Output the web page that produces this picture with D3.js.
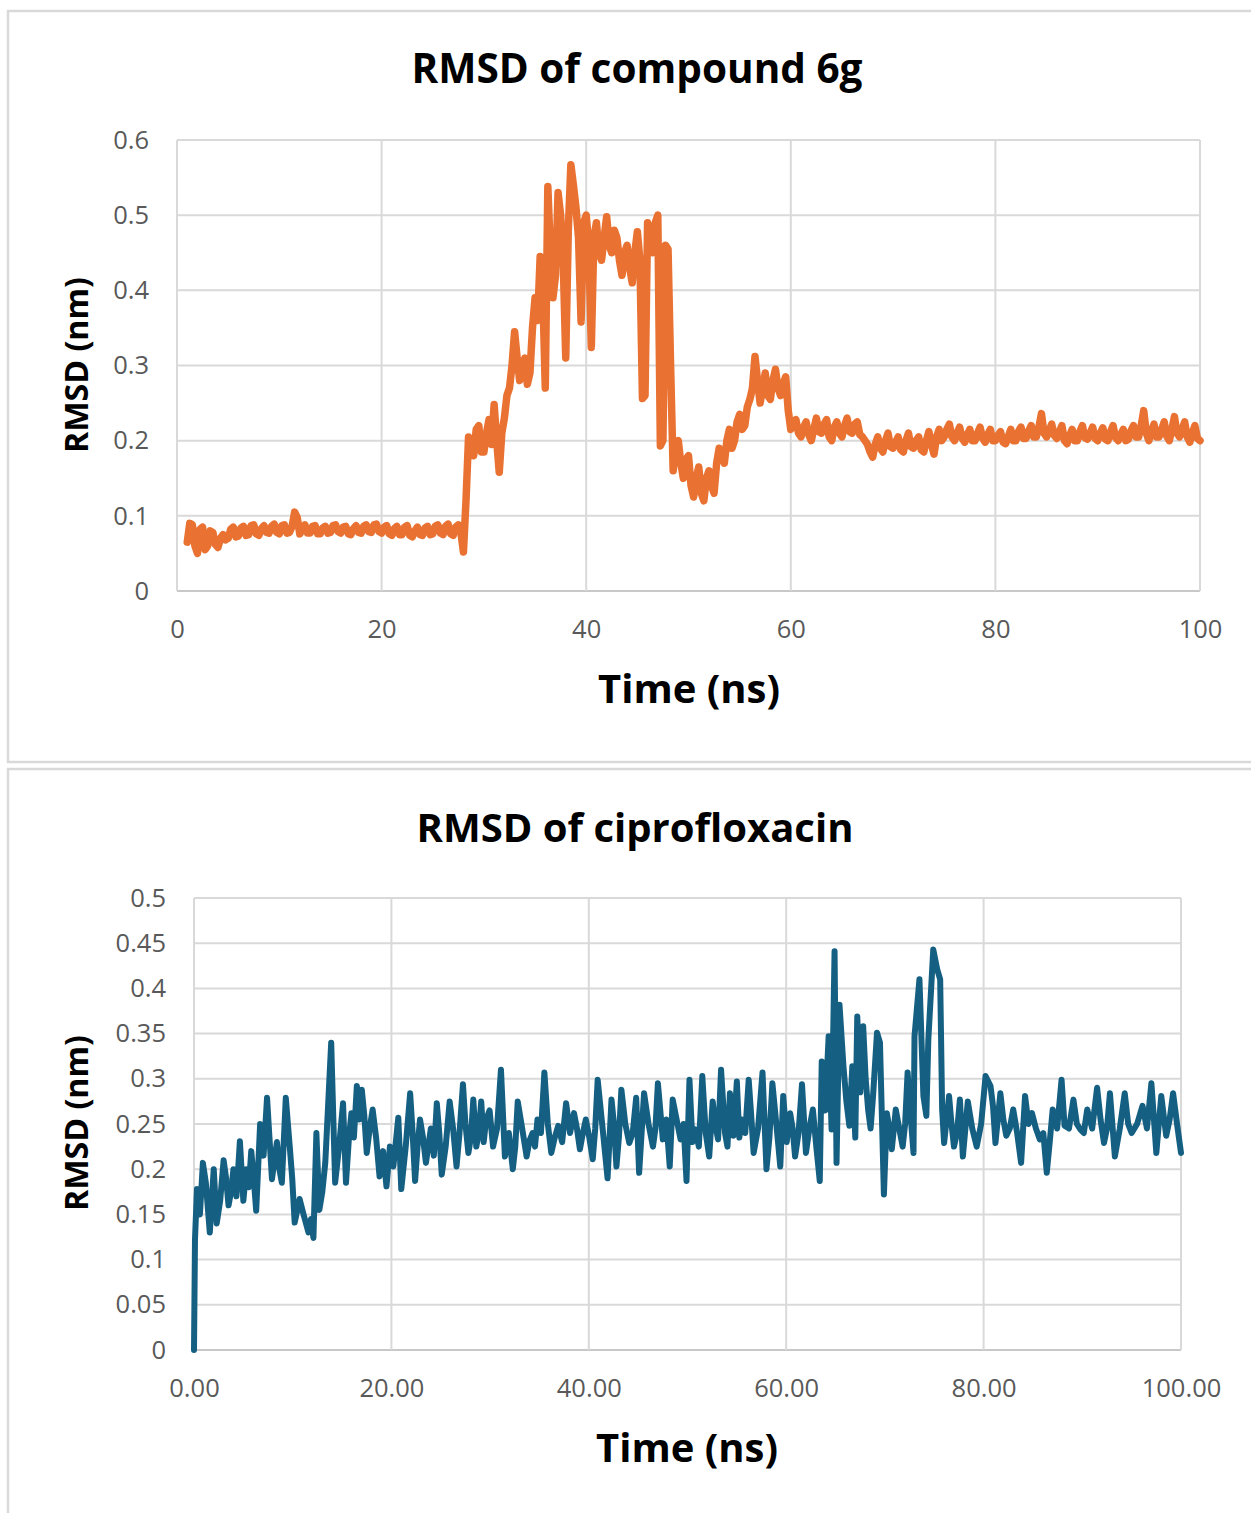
<!DOCTYPE html>
<html><head><meta charset="utf-8">
<script src="https://cdn.jsdelivr.net/npm/d3@7"></script>
<style>body{margin:0;background:#fff}svg{display:block}</style>
</head><body>
<svg id="c" width="1251" height="1513"></svg>
<script>
// ---------- DATA ----------
const titles = ["RMSD of compound 6g", "RMSD of ciprofloxacin"];
const xTitle = "Time (ns)";
const yTitle = "RMSD (nm)";

const topXTicks = [0, 20, 40, 60, 80, 100];
const topXLabels = ["0", "20", "40", "60", "80", "100"];
const topYTicks = [0, 0.1, 0.2, 0.3, 0.4, 0.5, 0.6];
const topYLabels = ["0", "0.1", "0.2", "0.3", "0.4", "0.5", "0.6"];

const botXTicks = [0, 20, 40, 60, 80, 100];
const botXLabels = ["0.00", "20.00", "40.00", "60.00", "80.00", "100.00"];
const botYTicks = [0, 0.05, 0.1, 0.15, 0.2, 0.25, 0.3, 0.35, 0.4, 0.45, 0.5];
const botYLabels = ["0", "0.05", "0.1", "0.15", "0.2", "0.25", "0.3", "0.35", "0.4", "0.45", "0.5"];

// compound 6g: sampled every 0.25 ns from 1 ns (one row = 5 ns)
const cmpStart = 1, cmpStep = 0.25;
const cmpRMSD = [
  0.065,0.090,0.088,0.060,0.050,0.082,0.085,0.055,0.060,0.080, 0.078,0.062,0.058,0.070,0.075,0.068,0.070,0.082,0.085,0.072,
  0.073,0.084,0.086,0.074,0.075,0.087,0.088,0.076,0.074,0.083, 0.087,0.078,0.077,0.086,0.089,0.078,0.076,0.087,0.088,0.077,
  0.078,0.086,0.105,0.098,0.076,0.082,0.088,0.077,0.077,0.086, 0.087,0.076,0.076,0.084,0.086,0.077,0.078,0.087,0.088,0.079,
  0.077,0.085,0.086,0.076,0.075,0.083,0.087,0.078,0.077,0.086, 0.088,0.079,0.078,0.088,0.089,0.079,0.077,0.085,0.087,0.076,
  0.074,0.083,0.086,0.075,0.075,0.085,0.087,0.074,0.072,0.080, 0.085,0.075,0.074,0.084,0.086,0.075,0.076,0.086,0.088,0.077,
  0.075,0.086,0.089,0.076,0.074,0.085,0.088,0.078,0.052,0.120, 0.205,0.190,0.180,0.215,0.220,0.185,0.185,0.210,0.228,0.195,
  0.248,0.200,0.158,0.210,0.230,0.260,0.270,0.300,0.345,0.310, 0.280,0.300,0.310,0.275,0.290,0.350,0.390,0.360,0.445,0.400,
  0.270,0.538,0.450,0.390,0.420,0.530,0.500,0.440,0.310,0.480, 0.567,0.540,0.510,0.470,0.358,0.490,0.500,0.460,0.324,0.470,
  0.490,0.450,0.440,0.470,0.498,0.460,0.450,0.480,0.470,0.440, 0.420,0.450,0.460,0.430,0.410,0.450,0.478,0.440,0.256,0.260,
  0.490,0.460,0.450,0.490,0.500,0.193,0.200,0.460,0.455,0.300, 0.160,0.190,0.200,0.170,0.150,0.175,0.180,0.140,0.125,0.150,
  0.165,0.130,0.120,0.150,0.160,0.140,0.130,0.170,0.190,0.180, 0.170,0.200,0.215,0.190,0.200,0.225,0.235,0.215,0.220,0.245,
  0.255,0.270,0.312,0.280,0.250,0.270,0.290,0.260,0.255,0.280, 0.295,0.270,0.260,0.275,0.285,0.240,0.215,0.225,0.228,0.210,
  0.205,0.218,0.225,0.208,0.200,0.215,0.230,0.212,0.210,0.222, 0.228,0.205,0.200,0.218,0.225,0.210,0.205,0.220,0.230,0.212,
  0.210,0.222,0.225,0.208,0.205,0.200,0.195,0.185,0.178,0.195, 0.205,0.190,0.185,0.200,0.210,0.192,0.190,0.198,0.205,0.188,
  0.185,0.200,0.210,0.192,0.190,0.200,0.205,0.188,0.185,0.200, 0.212,0.195,0.182,0.205,0.215,0.200,0.205,0.215,0.222,0.205,
  0.200,0.210,0.218,0.203,0.198,0.208,0.215,0.200,0.200,0.210, 0.218,0.203,0.198,0.208,0.215,0.200,0.200,0.207,0.212,0.198,
  0.196,0.205,0.215,0.200,0.200,0.212,0.218,0.203,0.203,0.213, 0.220,0.205,0.205,0.218,0.236,0.210,0.205,0.213,0.222,0.207,
  0.203,0.212,0.220,0.200,0.196,0.206,0.215,0.200,0.200,0.212, 0.220,0.204,0.202,0.210,0.218,0.203,0.200,0.210,0.217,0.202,
  0.200,0.212,0.220,0.204,0.200,0.208,0.215,0.200,0.202,0.213, 0.220,0.205,0.205,0.220,0.240,0.210,0.200,0.212,0.222,0.205,
  0.205,0.215,0.225,0.206,0.200,0.215,0.232,0.210,0.205,0.215, 0.225,0.205,0.198,0.210,0.220,0.203,0.200
];

// ciprofloxacin: main peaks/troughs
const cipTime = [
  0,0.1,0.3,0.9,1.6,2.0,2.3,3.0,3.5,4.0,
  4.65,5.0,5.3,5.8,6.3,6.7,7.4,7.9,8.4,8.9,
  9.3,9.7,10.2,10.7,11.6,12.1,12.4,12.7,13.3,13.9,
  14.3,15.1,15.4,15.95,16.5,17.0,17.5,18.1,18.8,19.5,
  20.2,20.7,21.0,21.9,22.4,22.9,23.5,24.6,25.1,25.9,
  26.6,27.25,27.8,28.3,28.6,29.1,29.6,30.3,31.1,31.5,
  32.3,32.8,33.7,34.3,34.8,35.5,36.2,36.9,37.7,38.5,
  39.1,39.7,40.4,40.9,41.9,42.3,42.8,43.3,44.1,44.8,
  45.1,45.6,46.5,47.0,47.5,48.2,48.5,49.3,49.9,50.2,
  50.8,51.5,52.2,52.55,53.1,53.4,53.8,54.3,54.65,55.0,
  55.5,56.2,56.7,57.6,58.0,58.6,59.4,59.7,60.4,60.9,
  61.6,62.0,62.7,63.4,63.6,64.3,64.6,64.9,65.1,65.4,
  65.8,66.4,66.7,67.0,67.2,67.8,68.3,68.8,69.2,69.5,
  69.9,70.2,70.7,71.1,71.8,72.3,72.9,73.0,73.5,73.9,
  74.2,74.4,74.9,75.3,75.6,75.8,76.0,76.5,77.0,77.6,
  77.9,78.4,79.3,80.2,80.7,81.2,81.7,82.3,83.0,83.8,
  84.2,84.9,85.7,86.4,87.0,87.9,88.2,89.1,89.8,90.5,
  91.5,92.2,92.8,93.3,94.3,95.0,96.1,97.0,97.5,98.0,
  98.5,99.2,100.0
];
const cipRMSD = [
  0,0.122,0.178,0.207,0.13,0.2,0.14,0.21,0.16,0.2,
  0.231,0.165,0.2,0.22,0.154,0.25,0.279,0.189,0.23,0.185,
  0.279,0.225,0.141,0.167,0.13,0.124,0.24,0.155,0.207,0.34,
  0.185,0.273,0.185,0.262,0.292,0.288,0.218,0.266,0.192,0.181,
  0.203,0.257,0.178,0.284,0.187,0.255,0.207,0.273,0.194,0.275,
  0.203,0.294,0.218,0.277,0.225,0.275,0.255,0.225,0.31,0.214,
  0.2,0.275,0.214,0.24,0.255,0.307,0.218,0.248,0.273,0.262,
  0.222,0.255,0.211,0.299,0.19,0.277,0.203,0.288,0.229,0.279,
  0.196,0.284,0.225,0.295,0.233,0.203,0.277,0.233,0.187,0.299,
  0.244,0.303,0.214,0.275,0.233,0.31,0.24,0.284,0.237,0.297,
  0.255,0.299,0.218,0.307,0.2,0.295,0.203,0.281,0.262,0.214,
  0.294,0.218,0.266,0.187,0.319,0.347,0.244,0.441,0.207,0.382,
  0.314,0.248,0.314,0.235,0.369,0.358,0.266,0.281,0.351,0.34,
  0.172,0.262,0.222,0.266,0.225,0.307,0.218,0.347,0.41,0.281,
  0.259,0.343,0.443,0.421,0.41,0.266,0.229,0.281,0.225,0.277,
  0.214,0.275,0.225,0.303,0.292,0.229,0.284,0.237,0.266,0.207,
  0.281,0.262,0.233,0.196,0.266,0.299,0.248,0.277,0.244,0.266,
  0.29,0.229,0.284,0.214,0.284,0.24,0.27,0.295,0.218,0.281,
  0.237,0.284,0.218
];
// ciprofloxacin: in-between samples
const cipTime2 = [
  0.6,1.2,2.65,3.25,3.75,4.3,5.55,6.05,7.05,8.15,
  8.65,9.95,11.1,11.85,13.0,14.7,15.7,16.2,16.75,17.25,
  17.8,18.45,19.15,19.85,20.45,21.45,22.15,22.65,23.2,24.0,
  24.3,24.85,25.5,26.25,26.9,27.5,28.05,28.85,29.35,29.95,
  30.7,31.9,32.55,33.25,34.0,34.55,35.15,35.85,36.55,37.3,
  38.1,38.8,39.4,40.05,40.65,41.4,42.55,43.05,43.7,44.45,
  46.05,46.75,47.85,48.9,49.6,50.5,51.15,51.85,52.8,54.05,
  55.25,55.85,56.45,57.15,58.3,59.0,60.05,60.65,61.25,62.35,
  63.05,63.95,66.1,67.5,68.05,68.55,70.45,71.45,72.05,72.6,
  76.75,77.3,78.85,79.75,80.95,82.0,82.65,83.4,84.55,85.3,
  86.05,86.7,87.45,88.65,89.45,90.15,91.0,91.85,92.5,93.8,
  94.65,95.55,96.55,97.75,98.85,99.6
];
const cipRMSD2 = [
  0.15,0.185,0.165,0.19,0.175,0.17,0.18,0.19,0.215,0.21,
  0.2,0.19,0.15,0.145,0.175,0.225,0.235,0.235,0.255,0.26,
  0.245,0.235,0.22,0.225,0.23,0.225,0.24,0.225,0.235,0.245,
  0.215,0.24,0.225,0.245,0.24,0.25,0.235,0.24,0.23,0.265,
  0.245,0.24,0.225,0.245,0.232,0.225,0.24,0.25,0.235,0.23,
  0.24,0.245,0.24,0.235,0.245,0.245,0.25,0.235,0.25,0.24,
  0.25,0.245,0.255,0.255,0.25,0.23,0.225,0.24,0.25,0.225,
  0.235,0.24,0.26,0.245,0.235,0.25,0.23,0.245,0.24,0.245,
  0.225,0.265,0.275,0.285,0.3,0.245,0.245,0.245,0.25,0.26,
  0.25,0.24,0.245,0.25,0.27,0.255,0.245,0.24,0.25,0.245,
  0.24,0.23,0.245,0.245,0.25,0.24,0.245,0.255,0.245,0.245,
  0.25,0.25,0.245,0.25,0.255,0.25
];

// ---------- DRAW ----------
const svg = d3.select("#c");
const FONT = "'Open Sans', 'Liberation Sans', Arial, sans-serif";
const GRID = "#d9d9d9";

function fitText(sel, target) {
  const n = sel.node();
  const w = n.getComputedTextLength();
  const fs = parseFloat(sel.attr("font-size"));
  sel.attr("font-size", (fs * target / w).toFixed(2));
}

function panel(cfg) {
  svg.append("rect").attr("x", cfg.box[0]).attr("y", cfg.box[1])
    .attr("width", cfg.box[2]).attr("height", cfg.box[3])
    .attr("fill", "#fff").attr("stroke", GRID).attr("stroke-width", 2.5);

  const x = d3.scaleLinear().domain([0, 100]).range([cfg.x0, cfg.x1]);
  const y = d3.scaleLinear().domain([0, cfg.ymax]).range([cfg.y0, cfg.y1]);

  const g = svg.append("g");
  g.selectAll(".hg").data(cfg.yTicks).join("line")
    .attr("x1", cfg.x0).attr("x2", cfg.x1)
    .attr("y1", d => y(d)).attr("y2", d => y(d))
    .attr("stroke", d => d === 0 ? "#c8c8c8" : GRID).attr("stroke-width", 2);
  g.selectAll(".vg").data(cfg.xTicks).join("line")
    .attr("y1", cfg.y0).attr("y2", cfg.y1)
    .attr("x1", d => x(d)).attr("x2", d => x(d))
    .attr("stroke", GRID).attr("stroke-width", 2);

  const ax = svg.append("g").attr("transform", `translate(0,${cfg.y0})`)
    .call(d3.axisBottom(x).tickValues(cfg.xTicks)
      .tickFormat((d, i) => cfg.xLabels[i]).tickSize(0).tickPadding(cfg.xPad));
  const ay = svg.append("g").attr("transform", `translate(${cfg.yLabelX},0)`)
    .call(d3.axisLeft(y).tickValues(cfg.yTicks)
      .tickFormat((d, i) => cfg.yLabels[i]).tickSize(0).tickPadding(0));
  [ax, ay].forEach(a => {
    a.select(".domain").remove();
    a.selectAll("text").attr("font-family", FONT).attr("font-size", 25.5)
      .attr("fill", "#595959");
  });

  const line = d3.line().x(d => x(d[0])).y(d => y(d[1]));
  svg.append("path").datum(cfg.data).attr("d", line)
    .attr("fill", "none").attr("stroke", cfg.color)
    .attr("stroke-width", cfg.lw).attr("stroke-linejoin", "round")
    .attr("stroke-linecap", "round");

  const t = svg.append("text").attr("x", cfg.titleX).attr("y", cfg.titleY)
    .attr("text-anchor", "middle").attr("font-family", FONT)
    .attr("font-weight", 700).attr("font-size", 36).attr("fill", "#000")
    .text(cfg.title);
  fitText(t, cfg.titleW);
  const xt = svg.append("text").attr("x", cfg.xtX).attr("y", cfg.xtY)
    .attr("text-anchor", "middle").attr("font-family", FONT)
    .attr("font-weight", 700).attr("font-size", 36).attr("fill", "#000")
    .text(xTitle);
  fitText(xt, 182);
  const yt = svg.append("text")
    .attr("transform", `translate(${cfg.ytX},${cfg.ytY}) rotate(-90)`)
    .attr("text-anchor", "middle").attr("font-family", FONT)
    .attr("font-weight", 700).attr("font-size", 28).attr("fill", "#000")
    .text(yTitle);
  fitText(yt, 176);
}

const cmpData = cmpRMSD.map((v, i) => [cmpStart + i * cmpStep, v]);
const cipData = d3.sort(
  cipTime.map((t, i) => [t, cipRMSD[i]])
    .concat(cipTime2.map((t, i) => [t, cipRMSD2[i]])),
  d => d[0]);

panel({
  box: [8, 11, 1250, 751],
  x0: 177, x1: 1200, y0: 591, y1: 140, ymax: 0.6,
  xTicks: topXTicks, xLabels: topXLabels, yTicks: topYTicks, yLabels: topYLabels,
  xPad: 29, yLabelX: 149,
  data: cmpData, color: "#E97132", lw: 7.5,
  title: titles[0], titleX: 637, titleY: 83, titleW: 451,
  xtX: 689, xtY: 703, ytX: 88, ytY: 365
});

panel({
  box: [8, 769, 1250, 760],
  x0: 194, x1: 1181, y0: 1350, y1: 898, ymax: 0.5,
  xTicks: botXTicks, xLabels: botXLabels, yTicks: botYTicks, yLabels: botYLabels,
  xPad: 29, yLabelX: 166,
  data: cipData, color: "#156082", lw: 6,
  title: titles[1], titleX: 635, titleY: 842, titleW: 437,
  xtX: 687, xtY: 1462, ytX: 88, ytY: 1123
});
</script>
</body></html>
